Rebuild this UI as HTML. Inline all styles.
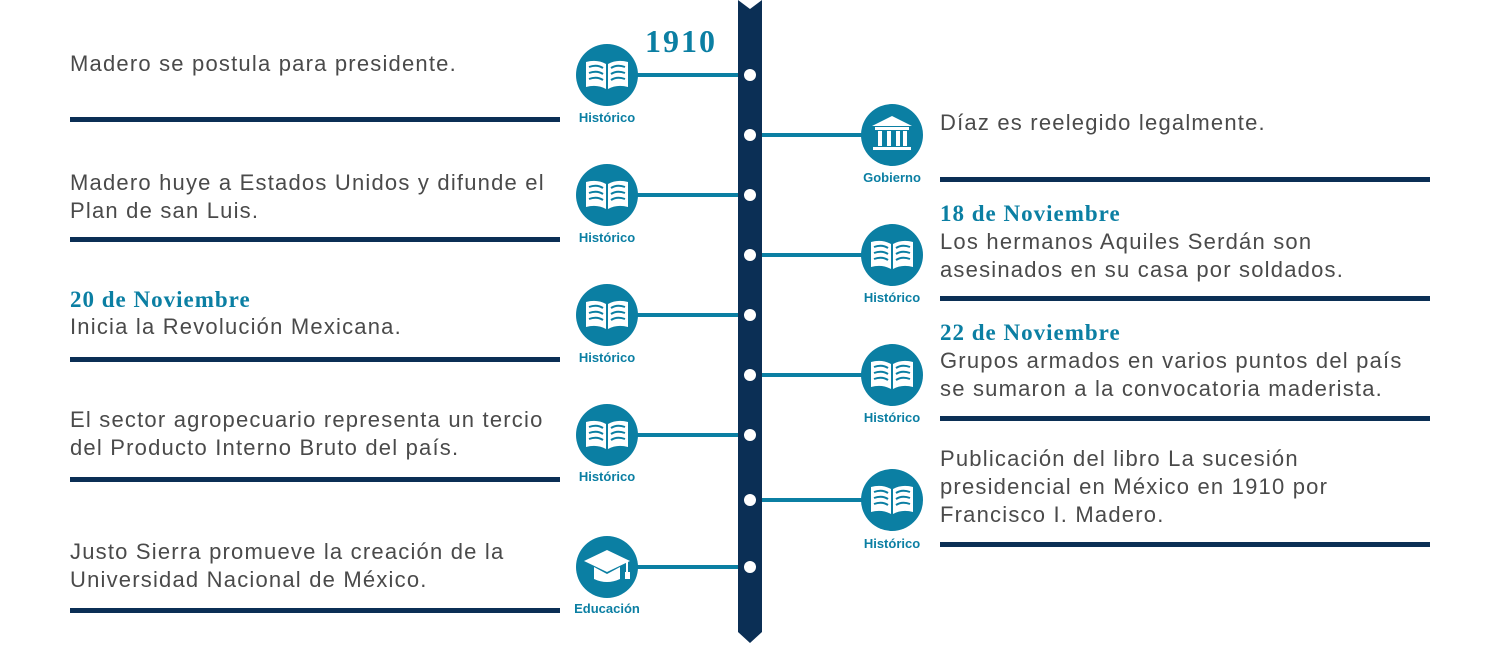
<!DOCTYPE html>
<html><head><meta charset="utf-8"><style>
body{margin:0;width:1500px;height:646px;background:#fff;position:relative;overflow:hidden;font-family:"Liberation Sans",sans-serif}
.t{position:absolute;font-size:22px;line-height:28px;color:#4a4a4a;white-space:nowrap;letter-spacing:1.2px}
.h{position:absolute;font-family:"Liberation Serif",serif;font-weight:bold;font-size:23px;line-height:28px;color:#0b7fa3;white-space:nowrap;letter-spacing:1px}
.u{position:absolute;height:5px;background:#0b2f55;width:490px}
.lab{position:absolute;font-size:13px;font-weight:bold;color:#0b7fa3;width:100px;text-align:center}
</style></head><body>
<svg width="1500" height="646" style="position:absolute;left:0;top:0">
<defs>
<g id="book"><circle r="31" fill="#0b7fa3"/>
<path d="M-21 -13 L-21 12 Q-10 9 -1 14 L-1 -11 Q-10 -16 -21 -13Z M21 -13 L21 12 Q10 9 1 14 L1 -11 Q10 -16 21 -13Z" fill="#fff"/>
<g stroke="#0b7fa3" stroke-width="2" fill="none">
<path d="M-18 -8 Q-10 -11 -4 -7 M-18 -2 Q-10 -5 -4 -1 M-18 4 Q-10 1 -4 5"/>
<path d="M18 -8 Q10 -11 4 -7 M18 -2 Q10 -5 4 -1 M18 4 Q10 1 4 5"/></g></g>
</defs>
<g stroke="#0b7fa3" stroke-width="4">
<line x1="607" y1="75" x2="740" y2="75"/><line x1="607" y1="195" x2="740" y2="195"/>
<line x1="607" y1="315" x2="740" y2="315"/><line x1="607" y1="435" x2="740" y2="435"/>
<line x1="607" y1="567" x2="740" y2="567"/>
<line x1="760" y1="135" x2="892" y2="135"/><line x1="760" y1="255" x2="892" y2="255"/>
<line x1="760" y1="375" x2="892" y2="375"/><line x1="760" y1="500" x2="892" y2="500"/>
</g>
<path d="M738 0 L750 9 L762 0 L762 632 L750 643 L738 632Z" fill="#0b2f55"/>
<g fill="#fff"><circle cx="750" cy="75" r="6"/><circle cx="750" cy="135" r="6"/><circle cx="750" cy="195" r="6"/><circle cx="750" cy="255" r="6"/><circle cx="750" cy="315" r="6"/><circle cx="750" cy="375" r="6"/><circle cx="750" cy="435" r="6"/><circle cx="750" cy="500" r="6"/><circle cx="750" cy="567" r="6"/></g>
<use href="#book" x="607" y="75"/><use href="#book" x="607" y="195"/><use href="#book" x="607" y="315"/><use href="#book" x="607" y="435"/>
<use href="#book" x="892" y="255"/><use href="#book" x="892" y="375"/><use href="#book" x="892" y="500"/>
<g transform="translate(892,135)"><circle r="31" fill="#0b7fa3"/>
<path d="M-20 -9 L0 -19 L20 -9Z" fill="#fff"/><rect x="-17" y="-8" width="34" height="3" fill="#fff"/>
<rect x="-14" y="-4" width="4" height="15" fill="#fff"/><rect x="-5" y="-4" width="4" height="15" fill="#fff"/><rect x="4" y="-4" width="4" height="15" fill="#fff"/><rect x="11" y="-4" width="4" height="15" fill="#fff"/>
<rect x="-19" y="12" width="38" height="3" fill="#fff"/></g>
<g transform="translate(607,567)"><circle r="31" fill="#0b7fa3"/>
<path d="M-23 -6 L0 -17 L23 -6 L0 5Z" fill="#fff"/><path d="M-13 0 L-13 12 Q0 18 13 12 L13 0 L0 7Z" fill="#fff"/>
<line x1="20" y1="-5" x2="20" y2="6" stroke="#fff" stroke-width="2"/><rect x="18" y="5" width="5" height="7" fill="#fff"/></g>
</svg>
<div class="h" style="left:645px;top:24px;font-size:32px;line-height:34px;letter-spacing:2px">1910</div>
<div class="lab" style="left:557px;top:110px">Histórico</div>
<div class="lab" style="left:557px;top:230px">Histórico</div>
<div class="lab" style="left:557px;top:350px">Histórico</div>
<div class="lab" style="left:557px;top:469px">Histórico</div>
<div class="lab" style="left:557px;top:601px">Educación</div>
<div class="lab" style="left:842px;top:170px">Gobierno</div>
<div class="lab" style="left:842px;top:290px">Histórico</div>
<div class="lab" style="left:842px;top:410px">Histórico</div>
<div class="lab" style="left:842px;top:536px">Histórico</div>

<div class="t" style="left:70px;top:50px">Madero se postula para presidente.</div>
<div class="u" style="left:70px;top:117px"></div>
<div class="t" style="left:70px;top:169px">Madero huye a Estados Unidos y difunde el<br>Plan de san Luis.</div>
<div class="u" style="left:70px;top:237px"></div>
<div class="h" style="left:70px;top:286px">20 de Noviembre</div>
<div class="t" style="left:70px;top:313px">Inicia la Revolución Mexicana.</div>
<div class="u" style="left:70px;top:357px"></div>
<div class="t" style="left:70px;top:406px">El sector agropecuario representa un tercio<br>del Producto Interno Bruto del país.</div>
<div class="u" style="left:70px;top:477px"></div>
<div class="t" style="left:70px;top:538px">Justo Sierra promueve la creación de la<br>Universidad Nacional de México.</div>
<div class="u" style="left:70px;top:608px"></div>

<div class="t" style="left:940px;top:109px">Díaz es reelegido legalmente.</div>
<div class="u" style="left:940px;top:177px"></div>
<div class="h" style="left:940px;top:200px">18 de Noviembre</div>
<div class="t" style="left:940px;top:228px">Los hermanos Aquiles Serdán son<br>asesinados en su casa por soldados.</div>
<div class="u" style="left:940px;top:296px"></div>
<div class="h" style="left:940px;top:319px">22 de Noviembre</div>
<div class="t" style="left:940px;top:347px">Grupos armados en varios puntos del país<br>se sumaron a la convocatoria maderista.</div>
<div class="u" style="left:940px;top:416px"></div>
<div class="t" style="left:940px;top:445px">Publicación del libro La sucesión<br>presidencial en México en 1910 por<br>Francisco I. Madero.</div>
<div class="u" style="left:940px;top:542px"></div>
</body></html>
